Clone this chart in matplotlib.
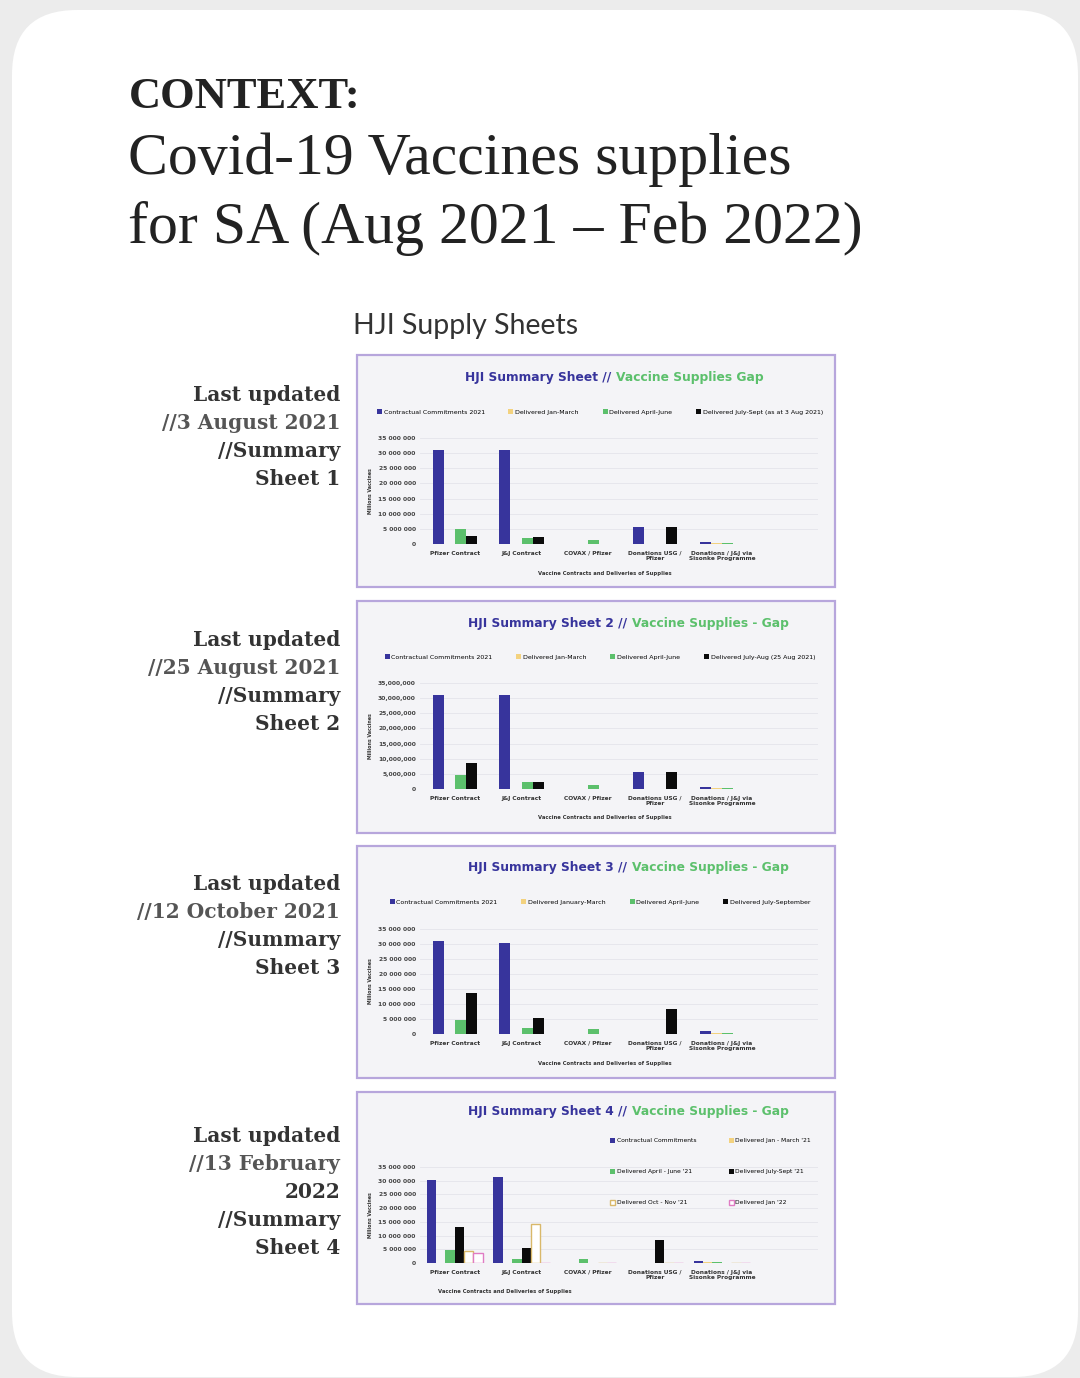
import numpy as np
import matplotlib.pyplot as plt
from matplotlib.patches import FancyBboxPatch, Rectangle

W, H = 1080, 1378

# categories shared by all four supply sheets
categories = ["Pfizer Contract", "J&J Contract", "COVAX / Pfizer",
              "Donations USG /\nPfizer", "Donations / J&J via\nSisonke Programme"]
yticks = [0, 5, 10, 15, 20, 25, 30, 35]  # millions

# sheet 1 (3 Aug 2021), millions of doses
s1_commit = [31.0, 31.0, 0.0, 5.7, 0.5]
s1_janmar = [0.0, 0.0, 0.0, 0.0, 0.4]
s1_aprjun = [4.8, 2.0, 1.2, 0.0, 0.4]
s1_julsep = [2.8, 2.4, 0.0, 5.7, 0.0]
s1_labels = ["Contractual Commitments 2021", "Delivered Jan-March",
             "Delivered April-June", "Delivered July-Sept (as at 3 Aug 2021)"]

# sheet 2 (25 Aug 2021)
s2_commit = [31.0, 31.0, 0.0, 5.7, 0.5]
s2_janmar = [0.0, 0.0, 0.0, 0.0, 0.4]
s2_aprjun = [4.7, 2.2, 1.4, 0.0, 0.4]
s2_julaug = [8.6, 2.2, 0.0, 5.7, 0.0]
s2_labels = ["Contractual Commitments 2021", "Delivered Jan-March",
             "Delivered April-June", "Delivered July-Aug (25 Aug 2021)"]

# sheet 3 (12 Oct 2021)
s3_commit = [31.1, 30.2, 0.0, 0.0, 0.9]
s3_janmar = [0.0, 0.0, 0.0, 0.0, 0.4]
s3_aprjun = [4.8, 2.0, 1.8, 0.0, 0.4]
s3_julsep = [13.6, 5.5, 0.0, 8.2, 0.0]
s3_labels = ["Contractual Commitments 2021", "Delivered January-March",
             "Delivered April-June", "Delivered July-September"]

# sheet 4 (13 Feb 2022)
s4_commit = [30.1, 31.3, 0.0, 0.0, 0.6]
s4_janmar = [0.0, 0.0, 0.0, 0.0, 0.4]
s4_aprjun = [4.6, 1.6, 1.4, 0.0, 0.4]
s4_julsep = [13.2, 5.3, 0.0, 8.3, 0.0]
s4_octnov = [4.4, 14.4, 0.0, 0.0, 0.0]
s4_jan22 = [3.6, 0.0, 0.0, 0.0, 0.0]
s4_labels = ["Contractual Commitments", "Delivered Jan - March '21",
             "Delivered April - June '21", "Delivered July-Sept '21",
             "Delivered Oct - Nov '21", "Delivered Jan '22"]

side_notes = [
    ["Last updated", "//3 August 2021", "//Summary", "Sheet 1"],
    ["Last updated", "//25 August 2021", "//Summary", "Sheet 2"],
    ["Last updated", "//12 October 2021", "//Summary", "Sheet 3"],
    ["Last updated", "//13 February", "2022", "//Summary", "Sheet 4"],
]
titles = [("HJI Summary Sheet //", "Vaccine Supplies Gap"),
          ("HJI Summary Sheet 2 //", "Vaccine Supplies - Gap"),
          ("HJI Summary Sheet 3 //", "Vaccine Supplies - Gap"),
          ("HJI Summary Sheet 4 //", "Vaccine Supplies - Gap")]

BLUE = '#37349c'
YEL = '#f3d27f'
GRN = '#5cc06c'
BLK = '#0b0b0b'
TAN = '#d9b86a'
PINK = '#e07cc4'


def fx(x):
    return x / W


def fy(y):
    return 1 - y / H


fig = plt.figure(figsize=(W / 100, H / 100), dpi=100)
fig.patch.set_facecolor('#ececec')

card = FancyBboxPatch((12, H - 1377), 1066, 1367,
                      boxstyle='round,pad=0,rounding_size=65',
                      transform=None, fc='white', ec='none', zorder=-10)
fig.add_artist(card)

# heading
fig.text(fx(129), fy(97), "CONTEXT:", family='Liberation Serif',
         fontweight='bold', fontsize=32, color='#222', va='center')
fig.text(fx(128), fy(160), "Covid-19 Vaccines supplies",
         family='Liberation Serif', fontsize=43, color='#222', va='center')
fig.text(fx(128), fy(228), "for SA (Aug 2021 \u2013 Feb 2022)",
         family='Liberation Serif', fontsize=43, color='#222', va='center')
fig.text(fx(353), fy(326), "HJI Supply Sheets", family='Lato',
         fontsize=20.5, color='#333', va='center')

panels = [
    dict(series=[s1_commit, s1_janmar, s1_aprjun, s1_julsep], labels=s1_labels,
         frame=(355, 587), ax_y=(438, 544), title_y=378, split=611, leg_y=412,
         xlab=(605, 573), sep=' ', note_y=395, bw=0.165),
    dict(series=[s2_commit, s2_janmar, s2_aprjun, s2_julaug], labels=s2_labels,
         frame=(601, 833), ax_y=(683, 789), title_y=624, split=627, leg_y=657,
         xlab=(605, 818), sep=',', note_y=640, bw=0.165),
    dict(series=[s3_commit, s3_janmar, s3_aprjun, s3_julsep], labels=s3_labels,
         frame=(846, 1078), ax_y=(929, 1034), title_y=868, split=627, leg_y=902,
         xlab=(605, 1063), sep=' ', note_y=884, bw=0.165),
    dict(series=[s4_commit, s4_janmar, s4_aprjun, s4_julsep, s4_octnov, s4_jan22],
         labels=s4_labels, frame=(1092, 1304), ax_y=(1167, 1263), title_y=1112,
         split=627, leg_y=None, xlab=(505, 1292), sep=' ', note_y=1136, bw=0.14),
]

x = np.arange(len(categories))
ax_left, ax_right = 420, 818

for i, p in enumerate(panels):
    top, bot = p['frame']
    fig.add_artist(Rectangle((fx(357), fy(bot)), fx(835) - fx(357), fy(top) - fy(bot),
                             transform=fig.transFigure, fc='#f4f4f7', ec='#b7a6dc',
                             lw=1.6, zorder=-5))

    yt, yb = p['ax_y']
    ax = fig.add_axes([fx(ax_left), fy(yb), fx(ax_right) - fx(ax_left), fy(yt) - fy(yb)])
    ax.set_facecolor('none')
    n = len(p['series'])
    bw = p['bw']
    styles = [dict(color=BLUE), dict(color=YEL), dict(color=GRN), dict(color=BLK),
              dict(facecolor='white', edgecolor=TAN, lw=1.0),
              dict(facecolor='white', edgecolor=PINK, lw=1.0)]
    handles = []
    for k, (vals, lab) in enumerate(zip(p['series'], p['labels'])):
        off = (k - (n - 1) / 2) * bw
        handles.append(ax.bar(x + off, vals, width=bw, label=lab, **styles[k]))
    ax.set_xlim(-0.52, 5.44)
    ax.set_ylim(0, 35)
    ax.set_yticks(yticks)
    sep = p['sep']
    ax.set_yticklabels([f"{v * 1000000:,}".replace(',', sep) for v in yticks],
                       fontsize=4.3, fontweight='bold', color='#444')
    ax.set_xticks(x)
    ax.set_xticklabels(categories, fontsize=4.2, fontweight='bold', color='#333',
                       linespacing=1.1)
    ax.tick_params(axis='y', length=0, pad=3)
    ax.tick_params(axis='x', length=0, pad=5)
    for s in ax.spines.values():
        s.set_visible(False)
    ax.grid(axis='y', color='#e4e4ea', lw=0.6)
    ax.set_axisbelow(True)

    fig.text(fx(370), fy((yt + yb) / 2), "Millions Vaccines", rotation=90,
             fontsize=3.4, fontweight='bold', color='#333', ha='center', va='center')
    fig.text(fx(p['xlab'][0]), fy(p['xlab'][1]),
             "Vaccine Contracts and Deliveries of Supplies", fontsize=3.8,
             fontweight='bold', color='#333', ha='center', va='center')

    tb, tg = titles[i]
    fig.text(fx(p['split']), fy(p['title_y']), tb, fontsize=8.8, fontweight='bold',
             color=BLUE, ha='right', va='center')
    fig.text(fx(p['split'] + 5), fy(p['title_y']), tg, fontsize=8.8, fontweight='bold',
             color=GRN, ha='left', va='center')

    if p['leg_y'] is not None:
        ax.legend(loc='center', bbox_to_anchor=(fx(600), fy(p['leg_y'])),
                  bbox_transform=fig.transFigure, ncol=4, fontsize=4.5,
                  frameon=False, handlelength=0.8, handleheight=0.8,
                  handletextpad=0.3, columnspacing=3.8)
    else:
        order = [0, 2, 4, 1, 3, 5]
        ax.legend([handles[k] for k in order], [p['labels'][k] for k in order],
                  loc='upper left', bbox_to_anchor=(fx(610), fy(1138)),
                  bbox_transform=fig.transFigure, ncol=2, fontsize=4.3,
                  frameon=False, handlelength=0.8, handleheight=0.8,
                  handletextpad=0.3, columnspacing=5.5, labelspacing=4.3,
                  borderpad=0, borderaxespad=0)

    for j, line in enumerate(side_notes[i]):
        light = line.startswith('//') and 'Summary' not in line
        fig.text(fx(340), fy(p['note_y'] + 28 * j), line, family='DejaVu Serif',
                 fontsize=14.5, fontweight='bold',
                 color='#555' if light else '#333', ha='right', va='center')

fig.savefig('out.png', dpi=100, facecolor=fig.get_facecolor())
